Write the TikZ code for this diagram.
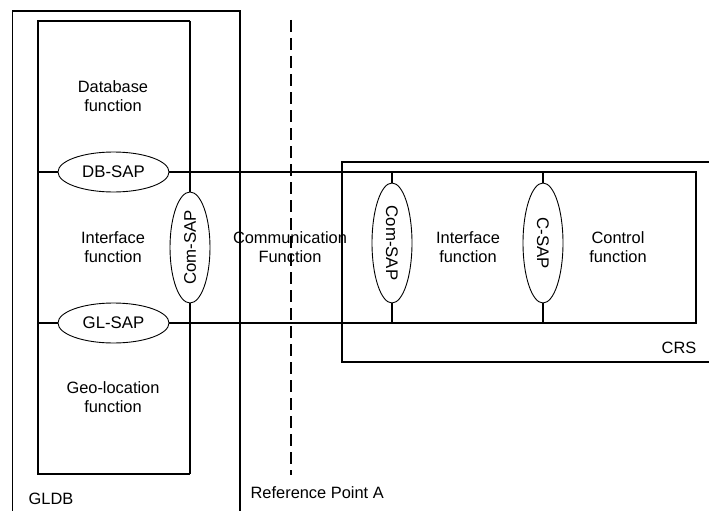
\documentclass[tikz,border=0pt]{standalone}
\usepackage{fontspec}
\setmainfont{Liberation Sans}
\usetikzlibrary{shapes.geometric}
\begin{document}
\begin{tikzpicture}[x=1pt,y=-1pt,line width=1.3pt,
  sap/.style={draw,ellipse,line width=0.9pt,minimum width=111pt,minimum height=40pt,inner sep=0pt,font=\fontsize{16.8}{18}\selectfont},
  lbl/.style={align=center,inner sep=0pt,font=\fontsize{16.4}{19.5}\selectfont},
  refline/.style={line width=1.1pt,dash pattern=on 12pt off 6pt}]
\useasboundingbox (0,0) rectangle (709,511);
% GLDB outer frame
\draw (12.5,520) -- (12.5,11) -- (240,11) -- (240,520);
% CRS outer frame
\draw (720,162) -- (342,162) -- (342,362) -- (720,362);
% reference point dashed line
\coordinate (rt) at (291,20);
\coordinate (rb) at (291,475);
\draw[refline] (rt) -- (rb);
% inner GLDB box corners
\coordinate (itl) at (38,21);
\coordinate (itr) at (190,21);
\coordinate (ibl) at (38,474);
\coordinate (ibr) at (190,474);
% SAP nodes
\node[sap] (dbsap) at (113.5,172) {DB-SAP};
\node[sap] (glsap) at (113.5,323) {GL-SAP};
\node[sap,rotate=90] (comL) at (190,247.5) {Com-SAP};
\node[sap,rotate=-90,minimum width=120pt] (comR) at (392,243) {Com-SAP};
\node[sap,rotate=-90,minimum width=120pt] (csap) at (543,243) {C-SAP};
% connection points
\coordinate (dbl) at (38,172);
\coordinate (gll) at (38,323);
\coordinate (crt) at (696,172);
\coordinate (crb) at (696,323);
\coordinate (c1t) at (392,172);
\coordinate (c1b) at (392,323);
\coordinate (c2t) at (543,172);
\coordinate (c2b) at (543,323);
% inner box
\draw (itr) -- (itl) -- (ibl) -- (ibr);
\draw (itr) -- (comL) -- (ibr);
% bus lines
\draw (dbl) -- (dbsap) -- (crt) -- (crb) -- (glsap) -- (gll);
\draw (c1t) -- (comR) -- (c1b);
\draw (c2t) -- (csap) -- (c2b);
% labels
\node[lbl] (dbf) at (113,96) {Database\\function};
\node[lbl] (iff) at (113,247) {Interface\\function};
\node[lbl] (geo) at (113,397) {Geo-location\\function};
\node[lbl] (comf) at (290,247) {Communication\\Function};
\node[lbl] (iff2) at (468,247) {Interface\\function};
\node[lbl] (ctl) at (618,247) {Control\\function};
\node[lbl,anchor=east] (crs) at (697,348) {CRS};
\node[lbl,anchor=west] (gldb) at (28,499) {GLDB};
\node[lbl,anchor=west] (rpa) at (250,493) {Reference Point A};
\end{tikzpicture}
\end{document}
